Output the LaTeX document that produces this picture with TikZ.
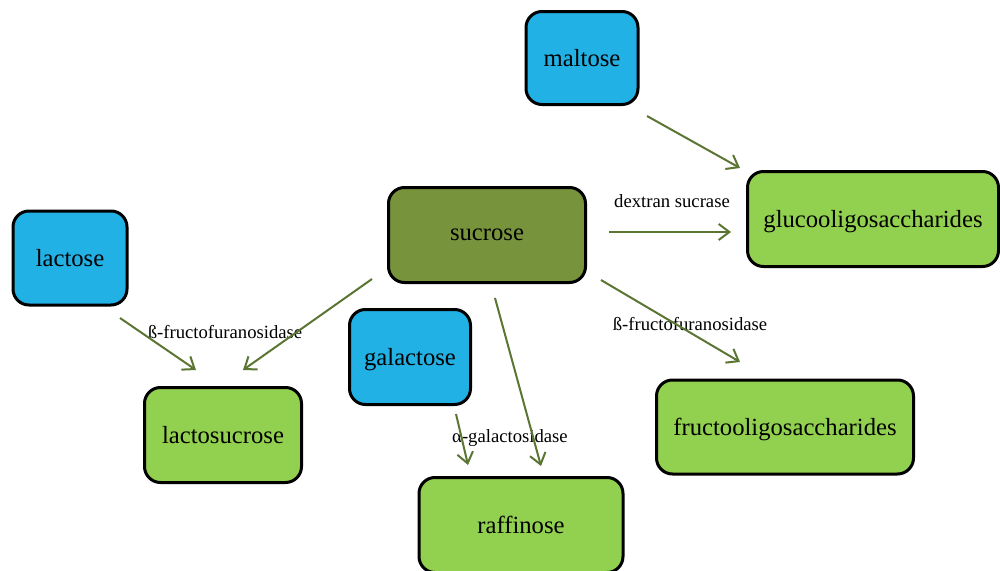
\documentclass[tikz,border=0pt]{standalone}
\usepackage{fontspec}
\setmainfont{Liberation Serif}
\usetikzlibrary{arrows.meta, positioning}

\definecolor{sugarblue}{HTML}{22B1E5}
\definecolor{sugarolive}{HTML}{77933C}
\definecolor{sugargreen}{HTML}{92D050}
\definecolor{flowline}{HTML}{5B7532}

\begin{document}
\begin{tikzpicture}[x=0.75pt, y=-0.75pt,
        sugar/.style={draw, line width=2.25pt, rounded corners=12pt, text=black,
            text depth=0pt, font=\fontsize{18.5}{22}\selectfont},
        enzyme/.style={inner sep=0pt, font=\fontsize{14}{17}\selectfont},
        flow/.style={draw=flowline, line width=1.5pt,
            -{Straight Barb[length=8pt, width=12pt, line width=1.5pt]}}]
    \useasboundingbox (0, 0) rectangle (1000, 571);

    % substrates
    \node[sugar, fill=sugarblue, minimum width=84pt, minimum height=69.75pt] (mal) at (582, 58) {maltose};
    \node[sugar, fill=sugarolive, minimum width=147.75pt, minimum height=71.25pt] (suc) at (487, 235) {sucrose};
    \node[sugar, fill=sugarblue, minimum width=85.5pt, minimum height=70.5pt] (lac) at (70, 258) {lactose};
    \node[sugar, fill=sugarblue, minimum width=90.75pt, minimum height=71.25pt] (gal) at (410, 357) {galactose};

    % products
    \node[sugar, fill=sugargreen, minimum width=188.25pt, minimum height=71.25pt] (glu) at (873, 219) {glucooligosaccharides};
    \node[sugar, fill=sugargreen, minimum width=117.75pt, minimum height=71.25pt] (lsu) at (223, 435) {lactosucrose};
    \node[sugar, fill=sugargreen, minimum width=192.75pt, minimum height=70.5pt] (fru) at (785, 427) {fructooligosaccharides};
    \node[sugar, fill=sugargreen, minimum width=153pt, minimum height=71.25pt] (raf) at (521, 525) {raffinose};

    % arrow ends (arrows stop short of the boxes)
    \coordinate (mal-o) at (647, 116);
    \coordinate (glu-i1) at (740, 168);
    \coordinate (suc-o1) at (609, 232);
    \coordinate (glu-i2) at (731, 232);
    \coordinate (suc-o2) at (601, 280);
    \coordinate (fru-i) at (740, 362);
    \coordinate (lac-o) at (120, 318);
    \coordinate (lsu-i1) at (196, 370);
    \coordinate (suc-o3) at (372, 279);
    \coordinate (lsu-i2) at (243, 370);
    \coordinate (gal-o) at (456, 414);
    \coordinate (raf-i1) at (468, 465);
    \coordinate (suc-o4) at (495, 298);
    \coordinate (raf-i2) at (541, 466);

    % enzymes
    \node[enzyme] (dex) at (672, 201) {dextran sucrase};
    \node[enzyme] (ffr) at (690, 324) {ß-fructofuranosidase};
    \node[enzyme] (ffl) at (225, 332) {ß-fructofuranosidase};
    \node[enzyme] (aga) at (510, 438) {α-galactosidase};

    \draw
    (mal-o) edge[flow] (glu-i1)
    (suc-o1) edge[flow] (glu-i2)
    (suc-o2) edge[flow] (fru-i)
    (lac-o) edge[flow] (lsu-i1)
    (suc-o3) edge[flow] (lsu-i2)
    (gal-o) edge[flow] (raf-i1)
    (suc-o4) edge[flow] (raf-i2);
\end{tikzpicture}
\end{document}
